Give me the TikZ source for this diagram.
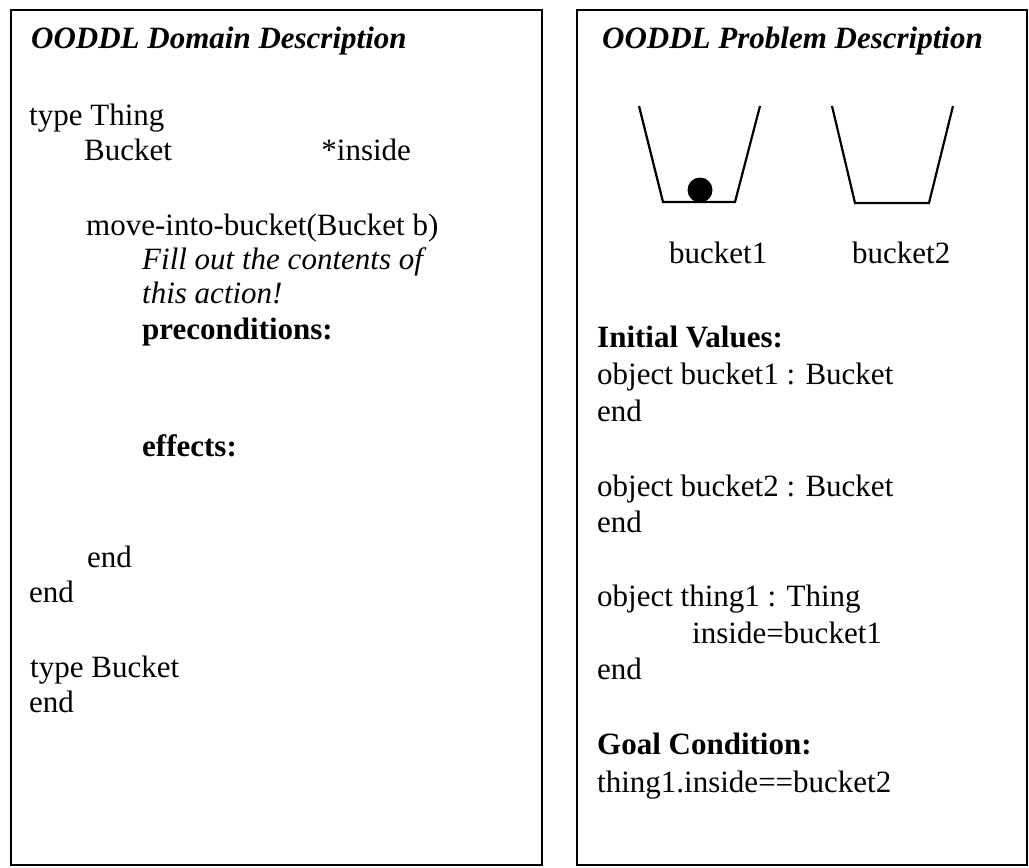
\documentclass[tikz,border=0pt]{standalone}
\usepackage{fontspec}
\setmainfont{Liberation Serif}
\usetikzlibrary{positioning}

\begin{document}
\begin{tikzpicture}[x=1pt, y=-1pt,
    txt/.style={anchor=base west, inner sep=0pt, font=\fontsize{31}{35}\selectfont},
    head/.style={txt, font=\fontsize{31}{35}\selectfont\bfseries\itshape},
    note/.style={txt, font=\fontsize{31}{35}\selectfont\itshape},
    key/.style={txt, font=\fontsize{31}{35}\selectfont\bfseries},
    frame/.style={draw, line width=2pt},
    pail/.style={draw, line width=2.2pt, line join=miter}]
    \useasboundingbox (0,0) rectangle (1029,868);
    \draw[frame] (11,10) rectangle (542,865);
    \draw[frame] (577,10) rectangle (1027,865);

    \node[head] (domTitle)   at (31,48)  {OODDL Domain Description};
    \node[txt]  (typeThing)  at (29,125) {type Thing};
    \node[txt]  (bucketAttr) at (84,160) {Bucket};
    \node[txt]  (insideAttr) [base right=149pt of bucketAttr] {*inside};
    \node[txt]  (moveAction) at (86,235) {move-into-bucket(Bucket b)};
    \node[note] (fillNote)   at (142,269) {Fill out the contents of};
    \node[note] (fillNoteB)  at (142,303) {this action!};
    \node[key]  (preCond)    at (142,339) {preconditions:};
    \node[key]  (effCond)    at (142,456) {effects:};
    \node[txt]  (endAction)  at (87,567) {end};
    \node[txt]  (endThing)   at (29,602) {end};
    \node[txt]  (typeBucket) at (30,677) {type Bucket};
    \node[txt]  (endBucket)  at (29,712) {end};

    \node[head] (probTitle)  at (602,48) {OODDL Problem Description};
    \draw[pail] (639,106) -- (663,202) -- (735,202) -- (760,106);
    \draw[pail] (832,106) -- (855,203) -- (929,203) -- (953,106);
    \fill (700,190) circle[radius=12.5pt];
    \node[txt]  (labelOne)   at (669,263) {bucket1};
    \node[txt]  (labelTwo)   at (852,263) {bucket2};

    \node[key]  (initVals)   at (597,347) {Initial Values:};
    \node[txt]  (objOne)     at (597,384) {object bucket1 : Bucket};
    \node[txt]  (endOne)     at (597,421) {end};
    \node[txt]  (objTwo)     at (597,496) {object bucket2 : Bucket};
    \node[txt]  (endTwo)     at (597,532) {end};
    \node[txt]  (objThing)   at (597,606) {object thing1 : Thing};
    \node[txt]  (insideVal)  at (692,643) {inside=bucket1};
    \node[txt]  (endObj)     at (597,679) {end};
    \node[key]  (goalCond)   at (597,754) {Goal Condition:};
    \node[txt]  (goalExpr)   at (597,792) {thing1.inside==bucket2};
\end{tikzpicture}
\end{document}
